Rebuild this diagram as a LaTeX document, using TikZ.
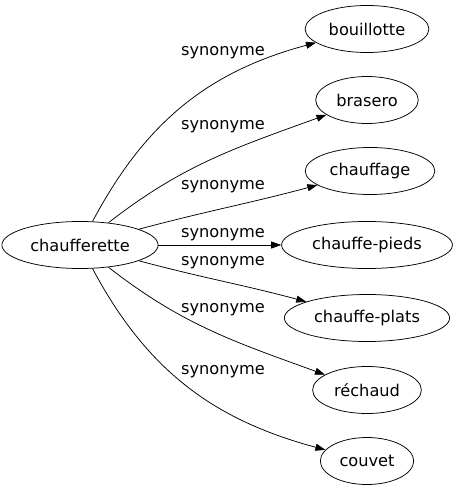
\documentclass[tikz,border=0pt]{standalone}
\usepackage{fontspec}
\setmainfont{DejaVu Sans}
\usepackage{tikz}
\usetikzlibrary{shapes.geometric, arrows.meta}

\tikzset{
  word/.style={draw, ellipse, line width=0.75bp, inner xsep=5.5bp, minimum height=47bp, font=\fontsize{16.2bp}{18bp}\selectfont},
  lbl/.style={font=\fontsize{16.2bp}{18bp}\selectfont, inner sep=0pt},
  syn/.style={-{Triangle[length=10bp, width=7bp]}, line width=0.75bp}
}

\begin{document}
\begin{tikzpicture}[x=1bp, y=-1bp]
        \useasboundingbox (0,0) rectangle (457,491);

        % Main word
        \node[word] (chaufferette) at (80,245) {chaufferette};

        % Synonyms
        \node[word] (bouillotte) at (367,29) {bouillotte};
        \node[word] (brasero) at (367,100) {brasero};
        \node[word] (chauffage) at (370,171) {chauffage};
        \node[word] (pieds) at (367,245) {chauffe-pieds};
        \node[word] (plats) at (367,318) {chauffe-plats};
        \node[word] (rechaud) at (367,390) {réchaud};
        \node[word] (couvet) at (367,461) {couvet};

        % Edge labels
        \node[lbl] (l1) at (223,53) {synonyme};
        \node[lbl] (l2) at (223,127) {synonyme};
        \node[lbl] (l3) at (223,187) {synonyme};
        \node[lbl] (l4) at (223,235) {synonyme};
        \node[lbl] (l5) at (223,263) {synonyme};
        \node[lbl] (l6) at (223,310) {synonyme};
        \node[lbl] (l7) at (223,372) {synonyme};

        % Edges
        \draw[syn] (chaufferette) to[out=62, in=195] (bouillotte);
        \draw[syn] (chaufferette) to[out=38, in=200] (brasero);
        \draw[syn] (chaufferette) to[out=15, in=195] (chauffage);
        \draw[syn] (chaufferette) -- (pieds);
        \draw[syn] (chaufferette) to[out=-15, in=165] (plats);
        \draw[syn] (chaufferette) to[out=-38, in=160] (rechaud);
        \draw[syn] (chaufferette) to[out=-62, in=165] (couvet);
    \end{tikzpicture}
\end{document}
